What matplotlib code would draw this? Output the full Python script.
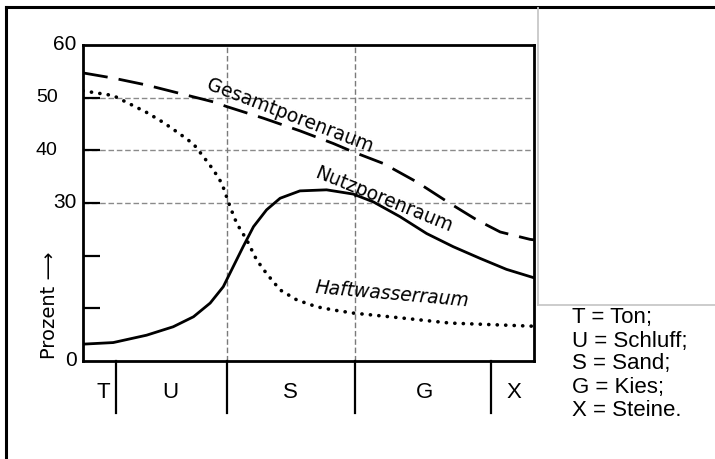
import matplotlib
matplotlib.use("Agg")
import matplotlib.pyplot as plt
from matplotlib.lines import Line2D
import matplotlib.transforms as mtransforms

# ---- data (x: relative position along the grain-size axis, 0..100; y: Prozent)
gesamt_x = [0, 6.8, 14.1, 21.5, 28.9, 31.9, 40.0, 48.1, 55.5, 59.9, 66.6, 74.0,
            81.4, 87.3, 92.5, 99.1, 100]
gesamt_y = [54.7, 53.7, 52.4, 50.8, 49.2, 48.3, 46.1, 43.7, 41.3, 39.7, 37.5, 34.0,
            29.9, 26.8, 24.5, 23.1, 23.0]

nutz_x = [0, 6.7, 14.1, 20.0, 24.5, 28.2, 31.1, 33.3, 35.5, 37.8, 40.7, 43.7, 48.1,
          54.0, 59.9, 64.4, 70.3, 76.2, 82.1, 88.0, 93.9, 100]
nutz_y = [3.2, 3.5, 4.9, 6.5, 8.4, 11.0, 14.1, 17.9, 21.7, 25.5, 28.7, 30.9, 32.3,
          32.5, 31.7, 30.2, 27.4, 24.2, 21.7, 19.5, 17.4, 15.8]

haft_x = [0, 6.7, 10.4, 14.1, 17.8, 21.5, 24.5, 26.7, 28.9, 30.8, 32.6, 34.1, 36.3,
          38.5, 40.7, 43.7, 47.4, 51.8, 55.4, 59.9, 70.3, 81.4, 100]
haft_y = [51.3, 50.4, 48.8, 47.2, 45.3, 43.1, 41.2, 38.8, 36.3, 33.7, 29.3, 26.1, 23.0,
          19.2, 16.6, 13.5, 11.6, 10.3, 9.7, 9.1, 8.2, 7.2, 6.6]

categories = ["T", "U", "S", "G", "X"]
category_pos = [4.4, 19.3, 45.9, 75.8, 95.6]
boundaries = [7.3, 31.9, 60.3, 90.5]
grid_x = [31.9, 60.3]
ytick_values = [10, 20, 30, 40, 50]
ylabel_values = [0, 30, 60]
ylabel_texts = ["0", "30", "60"]
hand_values = [40, 50]
hand_texts = ["40", "50"]
grid_y = [30, 40, 50]
legend_lines = ["T = Ton;", "U = Schluff;", "S = Sand;", "G = Kies;", "X = Steine."]

W, H = 715, 459
fig = plt.figure(figsize=(W / 100, H / 100), dpi=100)
fig.patch.set_facecolor("white")

# outer frame (left and top lines)
fig.add_artist(Line2D([6 / W, 6 / W], [0, 1 - 7 / H], color="black", lw=2.2,
                      transform=fig.transFigure))
fig.add_artist(Line2D([6 / W, 1], [1 - 7 / H, 1 - 7 / H], color="black", lw=2.2,
                      transform=fig.transFigure))
# white scan patch on the right: gray left and bottom edges
fig.add_artist(Line2D([538 / W, 538 / W], [1 - 8 / H, 1 - 305 / H], color="#c8c8c8",
                      lw=1.3, transform=fig.transFigure))
fig.add_artist(Line2D([538 / W, 1], [1 - 305 / H, 1 - 305 / H], color="#c8c8c8",
                      lw=1.3, transform=fig.transFigure))

ax = fig.add_axes([83 / W, (H - 361) / H, 451 / W, 316 / H])
ax.set_xlim(0, 100)
ax.set_ylim(0, 60)

for s in ax.spines.values():
    s.set_linewidth(2.0)
    s.set_color("black")

# grid
for gy in grid_y:
    ax.axhline(gy, color="#8a8a8a", lw=1.0, ls=(0, (4, 2)), zorder=1)
for gx in grid_x:
    ax.axvline(gx, color="#7a7a7a", lw=1.0, ls=(0, (4, 2)), zorder=1)

# curves
ax.plot(gesamt_x, gesamt_y, color="black", lw=2.0, dashes=(9, 4), zorder=3)
ax.plot(nutz_x, nutz_y, color="black", lw=2.0, zorder=3)
ax.plot(haft_x, haft_y, color="black", lw=2.6, linestyle=(0, (0.05, 2.3)),
        dash_capstyle="round", zorder=3)

# curve labels
lab = dict(fontsize=13.5, color="black", family="DejaVu Sans", ha="center",
           va="center")
ax.text(46.0, 46.6, "Gesamtporenraum", rotation=-21, **lab)
ax.text(66.6, 30.6, "Nutzporenraum", rotation=-22, **lab)
ax.text(68.6, 12.6, "Haftwasserraum", rotation=-5, style="italic", **lab)

# y ticks (unlabelled marks) and labels
ax.set_yticks(ytick_values)
ax.set_yticklabels([])
ax.tick_params(axis="y", direction="in", length=12, width=1.6)
ax.set_xticks([])
trans = mtransforms.blended_transform_factory(ax.transAxes, ax.transData)
for v, t in zip(ylabel_values, ylabel_texts):
    ax.text(-0.014, v, t, transform=trans, fontsize=15, family="Liberation Sans",
            ha="right", va="center")
for v, t in zip(hand_values, hand_texts):
    ax.text(-0.08, v, t, transform=trans, fontsize=14, family="Liberation Sans",
            ha="center", va="center")
ax.text(-0.075, 0.175, "Prozent ⟶", transform=ax.transAxes, rotation=90,
        fontsize=14, family="DejaVu Sans", ha="center", va="center")

# category separators and labels below the axis
for b in boundaries:
    ax.plot([b, b], [0, -9.9], color="black", lw=1.6, clip_on=False)
for c, p in zip(categories, category_pos):
    ax.text(p, -6.0, c, fontsize=16, family="Liberation Sans", ha="center",
            va="center")

# legend text
for i, t in enumerate(legend_lines):
    fig.text(572 / W, 1 - (318 + 23 * i) / H, t, fontsize=16,
             family="Liberation Sans", ha="left", va="center")

fig.savefig("out.png", dpi=100)
